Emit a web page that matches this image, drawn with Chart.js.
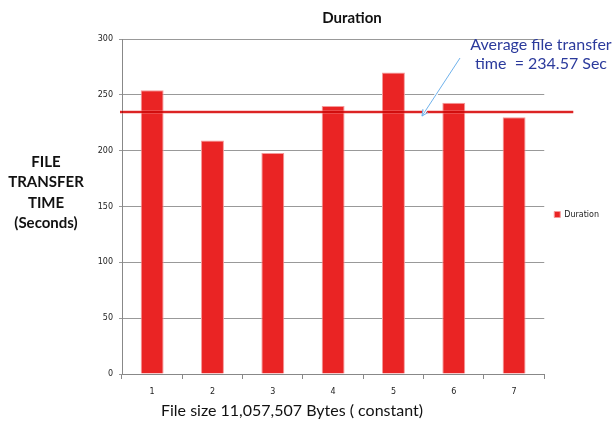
<!DOCTYPE html>
<html>
<head>
<meta charset="utf-8">
<script src="https://cdn.jsdelivr.net/npm/chart.js@4"></script>
<style>
    html, body { margin: 0; padding: 0; background: #fff; }
    #duracao_canvas { display: block; }
</style>
</head>
<body>
<canvas id="duracao_canvas" width="615" height="429"></canvas>
<script>
// dados
var categorias = ['1', '2', '3', '4', '5', '6', '7'];
var duracoes = [254, 209, 198, 240, 270, 243, 230];
var mediaTransferencia = 234.57;
var tituloEixoY = ['FILE', 'TRANSFER', 'TIME', '(Seconds)'];
var tituloEixoX = 'File size 11,057,507 Bytes ( constant)';
var textoMedia = ['Average file transfer', 'time  = 234.57 Sec'];

// desenha titulo do eixo y, titulo do eixo x, linha da media e a seta
const extrasPlugin = {
    id: 'extras',
    afterDatasetsDraw: function(chart) {
        var ctx = chart.ctx;
        var area = chart.chartArea;
        var yMedia = chart.scales.y.getPixelForValue(mediaTransferencia);

        ctx.save();
        // linha da media
        ctx.lineWidth = 4;
        ctx.strokeStyle = 'rgba(240,130,130,0.4)';
        ctx.beginPath();
        ctx.moveTo(area.left - 2, yMedia);
        ctx.lineTo(area.right + 29, yMedia);
        ctx.stroke();
        ctx.globalCompositeOperation = 'multiply';
        ctx.lineWidth = 2;
        ctx.strokeStyle = 'rgb(226,44,44)';
        ctx.beginPath();
        ctx.moveTo(area.left - 2, yMedia);
        ctx.lineTo(area.right + 29, yMedia);
        ctx.stroke();
        ctx.restore();

        // seta
        ctx.save();
        var x0 = 460, y0 = 58, x1 = 422, y1 = yMedia + 4;
        ctx.strokeStyle = '#ffffff';
        ctx.lineWidth = 3;
        ctx.beginPath();
        ctx.moveTo(x0, y0);
        ctx.lineTo(x1, y1);
        ctx.stroke();
        ctx.strokeStyle = '#6fb2ec';
        ctx.lineWidth = 1;
        ctx.beginPath();
        ctx.moveTo(x0, y0);
        ctx.lineTo(x1, y1);
        ctx.stroke();
        var ang = Math.atan2(y1 - y0, x1 - x0);
        ctx.beginPath();
        ctx.moveTo(x1 - 7 * Math.cos(ang - 0.45), y1 - 7 * Math.sin(ang - 0.45));
        ctx.lineTo(x1, y1);
        ctx.lineTo(x1 - 7 * Math.cos(ang + 0.45), y1 - 7 * Math.sin(ang + 0.45));
        ctx.stroke();
        ctx.restore();

        // textos
        ctx.save();
        ctx.textAlign = 'center';
        ctx.textBaseline = 'middle';
        ctx.fillStyle = '#2b3a9c';
        ctx.font = '16px Lato';
        ctx.fillText(textoMedia[0], 541, 45);
        ctx.fillText(textoMedia[1], 541, 64);

        ctx.fillStyle = '#111111';
        ctx.font = 'bold 15px Lato';
        for (var i = 0; i < tituloEixoY.length; i++) {
            ctx.fillText(tituloEixoY[i], 46, 162 + i * 20.5);
        }

        ctx.font = '16px Lato';
        ctx.fillText(tituloEixoX, 292, 411);
        ctx.restore();
    }
};

function plotarDuracao() {
    const config = {
        type: 'bar',
        data: {
            labels: categorias,
            datasets: [{
                label: 'Duration',
                data: duracoes,
                backgroundColor: '#ea2424',
                borderColor: '#f59a9a',
                borderWidth: 1,
                borderSkipped: 'bottom',
                categoryPercentage: 1,
                barPercentage: 0.38
            }]
        },
        options: {
            responsive: false,
            animation: false,
            layout: {
                padding: { left: 95, right: 6, top: 0, bottom: 0 }
            },
            plugins: {
                title: {
                    display: true,
                    text: 'Duration',
                    color: '#111',
                    font: { family: 'Lato', size: 15, weight: 'bold' },
                    padding: { top: 9, bottom: 12 }
                },
                legend: {
                    position: 'right',
                    labels: {
                        boxWidth: 6,
                        boxHeight: 6,
                        color: '#222',
                        font: { family: 'DejaVu Sans', size: 8 },
                        padding: 10
                    }
                },
                tooltip: { enabled: false }
            },
            scales: {
                x: {
                    afterFit: function(scale) { scale.height = 55; },
                    grid: {
                        drawOnChartArea: false,
                        drawTicks: true,
                        tickLength: 5,
                        color: '#888'
                    },
                    border: { color: '#888' },
                    ticks: {
                        color: '#222',
                        padding: 8,
                        font: { family: 'DejaVu Sans', size: 8 }
                    }
                },
                y: {
                    min: 0,
                    max: 300,
                    afterFit: function(scale) { scale.width = 27; },
                    grid: {
                        color: '#999',
                        tickLength: 3
                    },
                    border: { color: '#888' },
                    ticks: {
                        stepSize: 50,
                        color: '#222',
                        padding: 6,
                        font: { family: 'DejaVu Sans', size: 8 }
                    }
                }
            }
        },
        plugins: [extrasPlugin]
    };

    let myChart = new Chart(
        document.getElementById('duracao_canvas'),
        config
    );
}

plotarDuracao();
</script>
</body>
</html>
